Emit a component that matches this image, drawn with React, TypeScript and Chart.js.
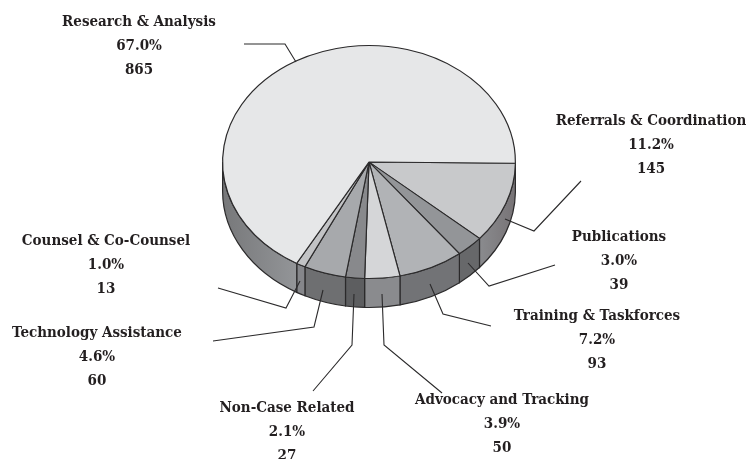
import React, { useEffect, useRef } from "react";
import { Chart, registerables } from "chart.js";

Chart.register(...registerables);

const categories = [
  "Referrals & Coordination",
  "Publications",
  "Training & Taskforces",
  "Advocacy and Tracking",
  "Non-Case Related",
  "Technology Assistance",
  "Counsel & Co-Counsel",
  "Research & Analysis",
];
const counts = [145, 39, 93, 50, 27, 60, 13, 865];
const percents = ["11.2%", "3.0%", "7.2%", "3.9%", "2.1%", "4.6%", "1.0%", "67.0%"];

const topColors = ["#c8c9cb", "#939598", "#b1b3b6", "#d5d6d8", "#88898c", "#a7a9ac", "#c2c3c5", "#e6e7e8"];
const wallLeft = ["#8a8b8e", "#67686a", "#727376", "#8a8b8e", "#5d5e60", "#6e6f71", "#85868a", "#939598"];
const wallRight = ["#777376", "#67686a", "#727376", "#8a8b8e", "#5d5e60", "#6e6f71", "#85868a", "#77787a"];

// label anchor (centre x, first baseline) for each category
const labelAnchors = [
  [651, 125],
  [619, 241],
  [597, 320],
  [502, 404],
  [287, 412],
  [97, 337],
  [106, 245],
  [139, 26],
];
// leader polylines for each category
const leaders = [
  [[581, 181], [534, 231], [505, 219]],
  [[555, 265], [489, 286], [468, 263]],
  [[491, 326], [443, 314], [430, 284]],
  [[442, 393], [384, 345], [382, 294]],
  [[313, 391], [352, 345], [354, 294]],
  [[213, 341], [314, 327], [323, 290]],
  [[218, 288], [286, 308], [300, 281]],
  [[244, 44], [285, 44], [296, 62]],
];

const SQUASH = 117 / 147;
const DEPTH = 29;
const INK = "#2b2a2b";

const piePlugin = {
  id: "pie3d",
  beforeDatasetsDraw(chart: any) {
    const ctx = chart.ctx;
    const arcs = chart.getDatasetMeta(0).data;
    ctx.save();
    arcs.forEach((arc: any, i: number) => {
      const a0 = Math.max(arc.startAngle, 0);
      const a1 = Math.min(arc.endAngle, Math.PI);
      if (a1 <= a0) return;
      const rx = arc.outerRadius;
      const ry = rx * SQUASH;
      const x0 = arc.x + rx * Math.cos(a0);
      const x1 = arc.x + rx * Math.cos(a1);
      const grad = ctx.createLinearGradient(x1, 0, x0, 0);
      grad.addColorStop(0, i === 7 ? wallRight[i] : wallLeft[i]);
      grad.addColorStop(1, i === 7 ? wallLeft[i] : wallRight[i]);
      ctx.beginPath();
      ctx.ellipse(arc.x, arc.y, rx, ry, 0, a0, a1);
      ctx.ellipse(arc.x, arc.y + DEPTH, rx, ry, 0, a1, a0, true);
      ctx.closePath();
      ctx.fillStyle = grad;
      ctx.fill();
      ctx.lineWidth = 1.2;
      ctx.strokeStyle = INK;
      ctx.stroke();
    });
    ctx.restore();
    const first = arcs[0];
    ctx.save();
    ctx.translate(first.x, first.y);
    ctx.scale(1, SQUASH);
    ctx.translate(-first.x, -first.y);
  },
  afterDatasetsDraw(chart: any) {
    const ctx = chart.ctx;
    ctx.restore();
    ctx.save();
    ctx.strokeStyle = INK;
    ctx.lineWidth = 1.1;
    leaders.forEach((pts) => {
      ctx.beginPath();
      pts.forEach(([x, y], j) => (j ? ctx.lineTo(x, y) : ctx.moveTo(x, y)));
      ctx.stroke();
    });
    ctx.fillStyle = "#231f20";
    ctx.textAlign = "center";
    ctx.textBaseline = "alphabetic";
    ctx.font = "bold condensed 15px 'DejaVu Serif'";
    categories.forEach((name, i) => {
      const [x, y] = labelAnchors[i];
      ctx.fillText(name, x, y);
      ctx.fillText(percents[i], x, y + 24);
      ctx.fillText(String(counts[i]), x, y + 48);
    });
    ctx.restore();
  },
};

export default function App() {
  const ref = useRef<HTMLCanvasElement>(null);
  useEffect(() => {
    document.body.style.margin = "0";
    const chart = new Chart(ref.current as HTMLCanvasElement, {
      type: "pie",
      data: {
        labels: categories,
        datasets: [
          {
            data: counts,
            backgroundColor: topColors,
            borderColor: INK,
            borderWidth: 1.2,
          },
        ],
      },
      options: {
        responsive: false,
        animation: false,
        rotation: 90.6,
        layout: { padding: { left: 222, right: 233, top: 15, bottom: 150 } },
        plugins: { legend: { display: false }, tooltip: { enabled: false } },
      },
      plugins: [piePlugin],
    } as any);
    return () => chart.destroy();
  }, []);
  return <canvas ref={ref} width={749} height={459} style={{ display: "block" }} />;
}
